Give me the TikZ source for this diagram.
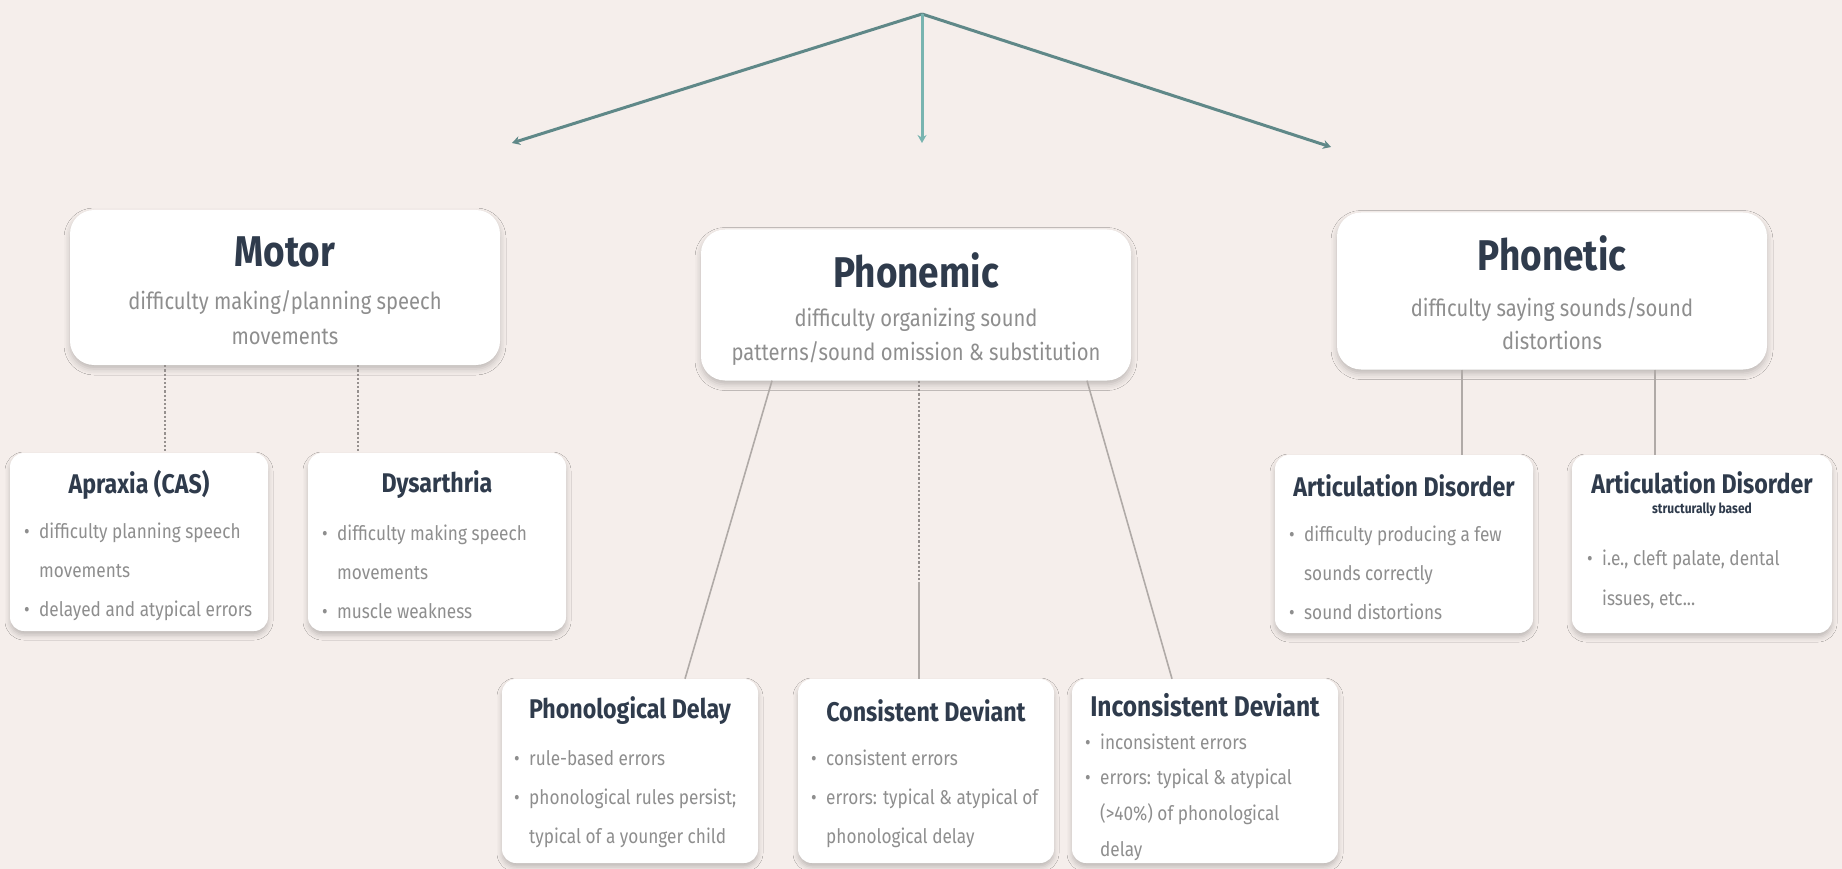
\documentclass[tikz,border=0pt]{standalone}
\usepackage{fontspec}
\setmainfont{Fira Sans}[FakeStretch=0.86]
\usetikzlibrary{arrows.meta,shadows.blur}
\definecolor{bg}{HTML}{F5EEEB}
\definecolor{ttl}{HTML}{2F3B4C}
\definecolor{bodyc}{HTML}{8E8E8E}
\definecolor{arrA}{HTML}{5F8888}
\definecolor{arrB}{HTML}{78B4B0}
\definecolor{conn}{HTML}{B0AAA7}
\newcommand{\bl}[1]{\makebox[15pt][l]{\textbullet}#1}
\newcommand{\cn}[1]{\hspace*{15pt}#1}
\tikzset{
 bigbox/.style={fill=white, rounded corners=24pt, minimum width=430pt, minimum height=155pt, inner sep=0pt,
   blur shadow={shadow xshift=0pt, shadow yshift=-4pt, shadow blur radius=6pt, shadow opacity=22}},
 smallbox/.style={fill=white, rounded corners=14pt, minimum width=258pt, minimum height=178pt, inner sep=0pt,
   blur shadow={shadow xshift=0pt, shadow yshift=-4pt, shadow blur radius=5pt, shadow opacity=22}},
 bigtitle/.style={font=\fontsize{43}{46}\selectfont\bfseries, text=ttl, inner sep=0pt},
 bigsub/.style={font=\fontsize{23.5}{35}\selectfont, text=bodyc, align=center, inner sep=0pt},
 smtitle/.style={font=\fontsize{27}{30}\selectfont\bfseries, text=ttl, inner sep=0pt},
 smsub/.style={font=\fontsize{14}{16}\selectfont\bfseries, text=ttl, inner sep=0pt},
 smbody/.style={font=\fontsize{20}{39}\selectfont, text=bodyc, align=left, anchor=west, inner sep=0pt},
 arrowline/.style={line width=3pt, -{Stealth[length=8pt,width=9pt]}},
 solidconn/.style={draw=conn, line width=1.6pt},
 dotconn/.style={draw=conn!85!black, line width=2.2pt, dotted},
}
\begin{document}
\begin{tikzpicture}[x=1pt,y=-1pt]
\fill[bg] (0,0) rectangle (1842,869);
\useasboundingbox (0,0) rectangle (1842,869);

% top-level boxes
\node[bigbox] (motor) at (285,287.5) {};
\node[bigbox, minimum height=151pt] (phonemic) at (916,305) {};
\node[bigbox, minimum height=157pt] (phonetic) at (1552,291) {};

\node[bigtitle] (motorT) at (285,252) {Motor};
\node[bigsub] (motorS) at (285,318) {difficulty making/planning speech\\movements};
\node[bigtitle] (phonemicT) at (916,270) {Phonemic};
\node[bigsub, font=\fontsize{23.5}{34}\selectfont] (phonemicS) at (916,337) {difficulty organizing sound\\patterns/sound omission \& substitution};
\node[bigtitle] (phoneticT) at (1552,253) {Phonetic};
\node[bigsub, font=\fontsize{23.5}{33}\selectfont] (phoneticS) at (1552,324) {difficulty saying sounds/sound\\distortions};

% second row
\node[smallbox] (apraxia) at (139,542) {};
\node[smallbox] (dysarthria) at (437,542) {};
\node[smallbox] (artic) at (1404,544) {};
\node[smallbox, minimum width=260pt] (articsb) at (1702,544) {};

\node[smtitle] (apraxiaT) at (139,485) {Apraxia (CAS)};
\node[smbody] (apraxiaB) at (24,572) {\bl{difficulty planning speech}\\\cn{movements}\\\bl{delayed and atypical errors}};
\node[smtitle] (dysT) at (437,485) {Dysarthria};
\node[smbody] (dysB) at (322,572) {\bl{difficulty making speech}\\\cn{movements}\\\bl{muscle weakness}};
\node[smtitle] (articT) at (1404,486) {Articulation Disorder};
\node[smbody] (articB) at (1289,573) {\bl{difficulty producing a few}\\\cn{sounds correctly}\\\bl{sound distortions}};
\node[smtitle] (articsbT) at (1702,483) {Articulation Disorder};
\node[smsub] (articsbS) at (1702,510) {structurally based};
\node[smbody, font=\fontsize{20}{40}\selectfont] (articsbB) at (1587,579) {\bl{i.e., cleft palate, dental}\\\cn{issues, etc...}};

% third row
\node[smallbox, minimum width=256pt, minimum height=184pt] (delay) at (630,771) {};
\node[smallbox, minimum width=256pt, minimum height=184pt] (consist) at (926,771) {};
\node[smallbox, minimum width=266pt, minimum height=184pt] (inconsist) at (1205,771) {};

\node[smtitle] (delayT) at (630,711) {Phonological Delay};
\node[smbody] (delayB) at (514,799) {\bl{rule-based errors}\\\bl{phonological rules persist;}\\\cn{typical of a younger child}};
\node[smtitle] (consistT) at (926,711) {Consistent Deviant};
\node[smbody] (consistB) at (811,799) {\bl{consistent errors}\\\bl{errors: typical \& atypical of}\\\cn{phonological delay}};
\node[smtitle, font=\fontsize{28.5}{30}\selectfont\bfseries] (inconsistT) at (1205,705) {Inconsistent Deviant};
\node[smbody, font=\fontsize{20}{35.7}\selectfont] (inconsistB) at (1085,797) {\bl{inconsistent errors}\\\bl{errors: typical \& atypical}\\\cn{(>40\%) of phonological}\\\cn{delay}};

% top arrows
\coordinate (apex) at (922,14);
\coordinate (endL) at (512,143);
\coordinate (endC) at (922,143);
\coordinate (endR) at (1331,147);
\draw[arrowline, arrA] (apex) -- (endL);
\draw[arrowline, arrA] (apex) -- (endR);
\draw[arrowline, arrB] (apex) -- (endC);

% connectors
\coordinate (xa) at (165,0);
\coordinate (xd) at (358,0);
\coordinate (xp1) at (772,0);
\coordinate (xp1b) at (685,0);
\coordinate (xp2) at (919,0);
\coordinate (xp2m) at (919,582);
\coordinate (xp3) at (1087,0);
\coordinate (xp3b) at (1172,0);
\coordinate (xt1) at (1462,0);
\coordinate (xt2) at (1655,0);

\draw[dotconn] (motor.south -| xa) -- (apraxia.north -| xa);
\draw[dotconn] (motor.south -| xd) -- (dysarthria.north -| xd);
\draw[solidconn] (phonemic.south -| xp1) -- (delay.north -| xp1b);
\draw[dotconn] (phonemic.south -| xp2) -- (xp2m);
\draw[solidconn] (xp2m) -- (consist.north -| xp2);
\draw[solidconn] (phonemic.south -| xp3) -- (inconsist.north -| xp3b);
\draw[solidconn] (phonetic.south -| xt1) -- (artic.north -| xt1);
\draw[solidconn] (phonetic.south -| xt2) -- (articsb.north -| xt2);
\end{tikzpicture}
\end{document}
